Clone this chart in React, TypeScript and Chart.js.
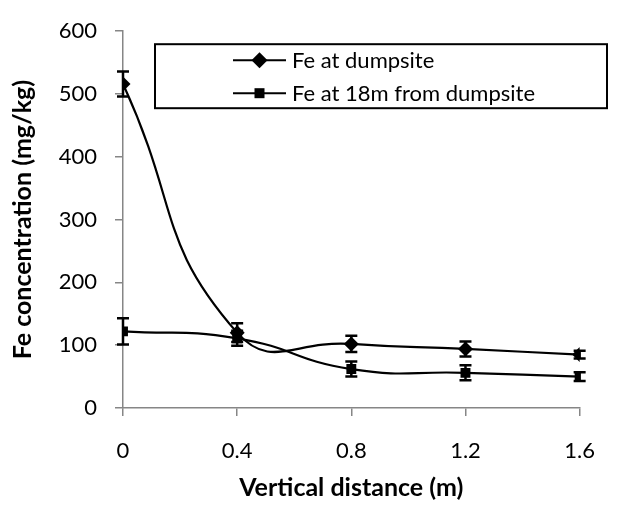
import React, { useEffect, useRef } from "react";
import { Chart, registerables } from "chart.js";

Chart.register(...registerables);

const distances = [0, 0.4, 0.8, 1.2, 1.6];
const xTickLabels = ["0", "0.4", "0.8", "1.2", "1.6"];
const yTicks = [0, 100, 200, 300, 400, 500, 600];

const feDumpsite = [516, 120, 102, 94, 85];
const feDumpsiteErr = [20, 15, 13, 12, 6];
const fe18m = [122, 111, 62, 56, 50];
const fe18mErr = [21, 12, 12, 12, 7];

const seriesNames = ["Fe at dumpsite", "Fe at 18m from dumpsite"];
const xTitle = "Vertical distance (m)";
const yTitle = "Fe concentration (mg/kg)";

const FONT = "Lato, 'Open Sans', sans-serif";

const errorBarPlugin = {
  id: "errorBars",
  afterDatasetsDraw(chart: any) {
    const ctx = chart.ctx;
    const xs = chart.scales.x;
    const ys = chart.scales.y;
    chart.data.datasets.forEach((ds: any) => {
      const errs: number[] = ds.errors || [];
      ds.data.forEach((pt: any, i: number) => {
        const e = errs[i];
        if (e == null) return;
        const px = xs.getPixelForValue(pt.x);
        const top = ys.getPixelForValue(pt.y + e);
        const bot = ys.getPixelForValue(pt.y - e);
        ctx.save();
        ctx.strokeStyle = "#000";
        ctx.lineWidth = 2.5;
        ctx.beginPath();
        ctx.moveTo(px, top);
        ctx.lineTo(px, bot);
        ctx.moveTo(px - 6, top);
        ctx.lineTo(px + 6, top);
        ctx.moveTo(px - 6, bot);
        ctx.lineTo(px + 6, bot);
        ctx.stroke();
        ctx.restore();
      });
    });
  },
};

const boxLegendPlugin = {
  id: "boxLegend",
  afterDraw(chart: any) {
    const ctx = chart.ctx;
    const area = chart.chartArea;
    const left = area.left + 32;
    const top = area.top + 13;
    const w = 452;
    const h = 64;
    ctx.save();
    ctx.fillStyle = "#fff";
    ctx.fillRect(left, top, w, h);
    ctx.strokeStyle = "#000";
    ctx.lineWidth = 2;
    ctx.strokeRect(left, top, w, h);
    chart.data.datasets.forEach((ds: any, i: number) => {
      const y = top + 16 + i * 33;
      const x0 = left + 78;
      const x1 = left + 131;
      const xm = (x0 + x1) / 2;
      ctx.strokeStyle = "#000";
      ctx.lineWidth = 2;
      ctx.beginPath();
      ctx.moveTo(x0, y);
      ctx.lineTo(x1, y);
      ctx.stroke();
      ctx.fillStyle = "#000";
      ctx.beginPath();
      if (ds.pointStyle === "rectRot") {
        ctx.moveTo(xm - 8, y);
        ctx.lineTo(xm, y - 8);
        ctx.lineTo(xm + 8, y);
        ctx.lineTo(xm, y + 8);
        ctx.closePath();
      } else {
        ctx.rect(xm - 5, y - 5, 10, 10);
      }
      ctx.fill();
      ctx.fillStyle = "#000";
      ctx.font = `22px ${FONT}`;
      ctx.textAlign = "left";
      ctx.textBaseline = "middle";
      ctx.fillText(ds.label, x1 + 6, y + 1);
    });
    ctx.restore();
  },
};

export default function App() {
  const ref = useRef<HTMLCanvasElement>(null);
  useEffect(() => {
    document.body.style.margin = "0";
    const canvas = ref.current;
    if (!canvas) return;
    const chart = new Chart(canvas, {
      type: "line",
      data: {
        datasets: [
          {
            label: seriesNames[0],
            data: distances.map((x, i) => ({ x, y: feDumpsite[i] })),
            errors: feDumpsiteErr,
            borderColor: "#000",
            backgroundColor: "#000",
            borderWidth: 2.2,
            pointStyle: "rectRot",
            pointRadius: 7.5,
            pointBorderWidth: 0,
            tension: 0.5,
          } as any,
          {
            label: seriesNames[1],
            data: distances.map((x, i) => ({ x, y: fe18m[i] })),
            errors: fe18mErr,
            borderColor: "#000",
            backgroundColor: "#000",
            borderWidth: 2.2,
            pointStyle: "rect",
            pointRadius: 7,
            pointBorderWidth: 0,
            tension: 0.5,
          } as any,
        ],
      },
      options: {
        responsive: false,
        animation: false,
        devicePixelRatio: 1,
        layout: { padding: { top: 20, right: 18, left: 0, bottom: 0 } },
        plugins: { legend: { display: false }, tooltip: { enabled: false } },
        scales: {
          x: {
            type: "linear",
            min: 0,
            max: 1.6,
            afterBuildTicks: (s: any) => {
              s.ticks = distances.map((v) => ({ value: v }));
            },
            afterFit: (s: any) => {
              s.height = 100;
            },
            ticks: {
              callback: (_v: any, i: number) => xTickLabels[i],
              color: "#000",
              font: { family: FONT, size: 22 },
              padding: 22,
              maxRotation: 0,
            },
            grid: {
              display: true,
              drawOnChartArea: false,
              drawTicks: true,
              tickLength: 8,
              color: "#868686",
              lineWidth: 1.5,
            },
            border: { display: true, color: "#868686", width: 1.5 },
            title: {
              display: true,
              text: xTitle,
              color: "#000",
              font: { family: FONT, size: 25, weight: "bold" },
              padding: { top: 0, bottom: 5 },
            },
          },
          y: {
            type: "linear",
            min: 0,
            max: 600,
            afterBuildTicks: (s: any) => {
              s.ticks = yTicks.map((v) => ({ value: v }));
            },
            afterFit: (s: any) => {
              s.width = 123;
            },
            ticks: {
              color: "#000",
              font: { family: FONT, size: 22 },
              padding: 18,
            },
            grid: {
              display: true,
              drawOnChartArea: false,
              drawTicks: true,
              tickLength: 8,
              color: "#868686",
              lineWidth: 1.5,
            },
            border: { display: true, color: "#868686", width: 1.5 },
            title: {
              display: true,
              text: yTitle,
              color: "#000",
              font: { family: FONT, size: 25, weight: "bold" },
              padding: { top: 8, bottom: 0 },
            },
          },
        },
      } as any,
      plugins: [errorBarPlugin, boxLegendPlugin],
    });
    return () => chart.destroy();
  }, []);
  return <canvas ref={ref} width={617} height={508} style={{ display: "block" }} />;
}
